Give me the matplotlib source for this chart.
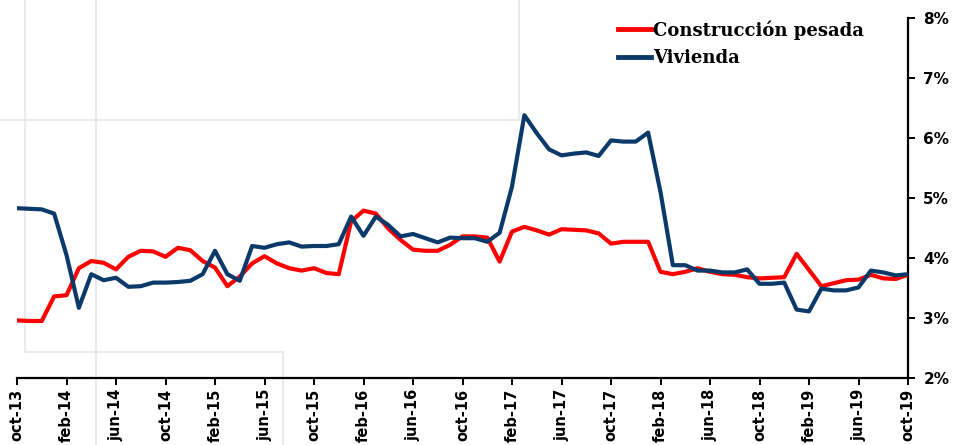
import matplotlib
matplotlib.use("Agg")
import matplotlib.pyplot as plt
from matplotlib.lines import Line2D
import numpy as np

tick_labels = ["oct-13", "feb-14", "jun-14", "oct-14", "feb-15", "jun-15", "oct-15",
               "feb-16", "jun-16", "oct-16", "feb-17", "jun-17", "oct-17", "feb-18",
               "jun-18", "oct-18", "feb-19", "jun-19", "oct-19"]

construccion = [2.96, 2.95, 2.95, 3.36, 3.38, 3.83, 3.95, 3.92, 3.81, 4.02,
                4.12, 4.11, 4.02, 4.17, 4.13, 3.95, 3.84, 3.53, 3.69, 3.91,
                4.03, 3.91, 3.83, 3.79, 3.83, 3.75, 3.73, 4.61, 4.79, 4.74,
                4.49, 4.30, 4.14, 4.12, 4.12, 4.22, 4.36, 4.36, 4.34, 3.94,
                4.44, 4.52, 4.46, 4.39, 4.48, 4.47, 4.46, 4.41, 4.24, 4.27,
                4.27, 4.27, 3.77, 3.73, 3.77, 3.83, 3.77, 3.73, 3.72, 3.68,
                3.66, 3.67, 3.68, 4.07, 3.80, 3.53, 3.58, 3.63, 3.64, 3.72,
                3.66, 3.65, 3.72]

vivienda = [4.83, 4.82, 4.81, 4.74, 4.05, 3.17, 3.73, 3.63, 3.67, 3.52,
            3.53, 3.59, 3.59, 3.60, 3.62, 3.73, 4.12, 3.73, 3.62, 4.20,
            4.17, 4.23, 4.26, 4.19, 4.20, 4.20, 4.23, 4.69, 4.37, 4.69,
            4.55, 4.36, 4.40, 4.33, 4.26, 4.34, 4.33, 4.33, 4.27, 4.42,
            5.19, 6.38, 6.08, 5.81, 5.71, 5.74, 5.76, 5.70, 5.96, 5.94,
            5.94, 6.09, 5.10, 3.88, 3.88, 3.79, 3.79, 3.76, 3.76, 3.81,
            3.57, 3.57, 3.59, 3.14, 3.11, 3.49, 3.46, 3.46, 3.51, 3.79,
            3.76, 3.71, 3.73]

series_names = ["Construcción pesada", "Vivienda"]
colors = ["#FF0000", "#0B3A6A"]

W, H = 956, 445
fig = plt.figure(figsize=(W / 100, H / 100), dpi=100)

# faint background artifact lines (pixel coords, top origin)
faint = [((25, 0), (25, 352)), ((25, 352), (283, 352)), ((283, 352), (283, 445)),
         ((96, 0), (96, 445)), ((0, 120), (519, 120)), ((519, 0), (519, 120))]
for (x0, y0), (x1, y1) in faint:
    fig.add_artist(Line2D([x0 / W, x1 / W], [1 - y0 / H, 1 - y1 / H],
                          color="#e6e6e6", lw=1.2, zorder=0))

ax = fig.add_axes([17 / W, 1 - 378 / H, (908 - 17) / W, (378 - 18) / H])
ax.patch.set_alpha(0)

x = np.arange(len(vivienda))
ax.plot(x, construccion, color=colors[0], lw=3.0, label=series_names[0],
        solid_joinstyle="round", zorder=3)
ax.plot(x, vivienda, color=colors[1], lw=3.0, label=series_names[1],
        solid_joinstyle="round", zorder=4)

ax.set_xlim(0, len(vivienda) - 1)
ax.set_ylim(2, 8)

ax.set_xticks(np.arange(0, len(vivienda), 4))
ax.set_xticklabels(tick_labels, rotation=90, fontsize=10.5, fontweight="bold")

ax.yaxis.tick_right()
ax.set_yticks(np.arange(2, 9, 1))
ax.set_yticklabels([f"{v}%" for v in range(2, 9)], fontsize=11, fontweight="bold")

for s in ["left", "top"]:
    ax.spines[s].set_visible(False)
ax.spines["right"].set_linewidth(1.6)
ax.spines["bottom"].set_linewidth(1.6)
ax.tick_params(axis="y", direction="out", length=5, width=1.4, pad=6)
ax.tick_params(axis="x", direction="out", length=5, width=1.4, pad=3)

leg = fig.legend(loc="upper left", bbox_to_anchor=(618 / W, 1 - 20 / H),
                 frameon=False, handlelength=1.8, handletextpad=0.15,
                 labelspacing=0.55, borderpad=0, borderaxespad=0,
                 prop={"family": "DejaVu Serif", "weight": "bold", "size": 13})
for line in leg.get_lines():
    line.set_linewidth(3.5)

fig.savefig("out.png", dpi=100)
